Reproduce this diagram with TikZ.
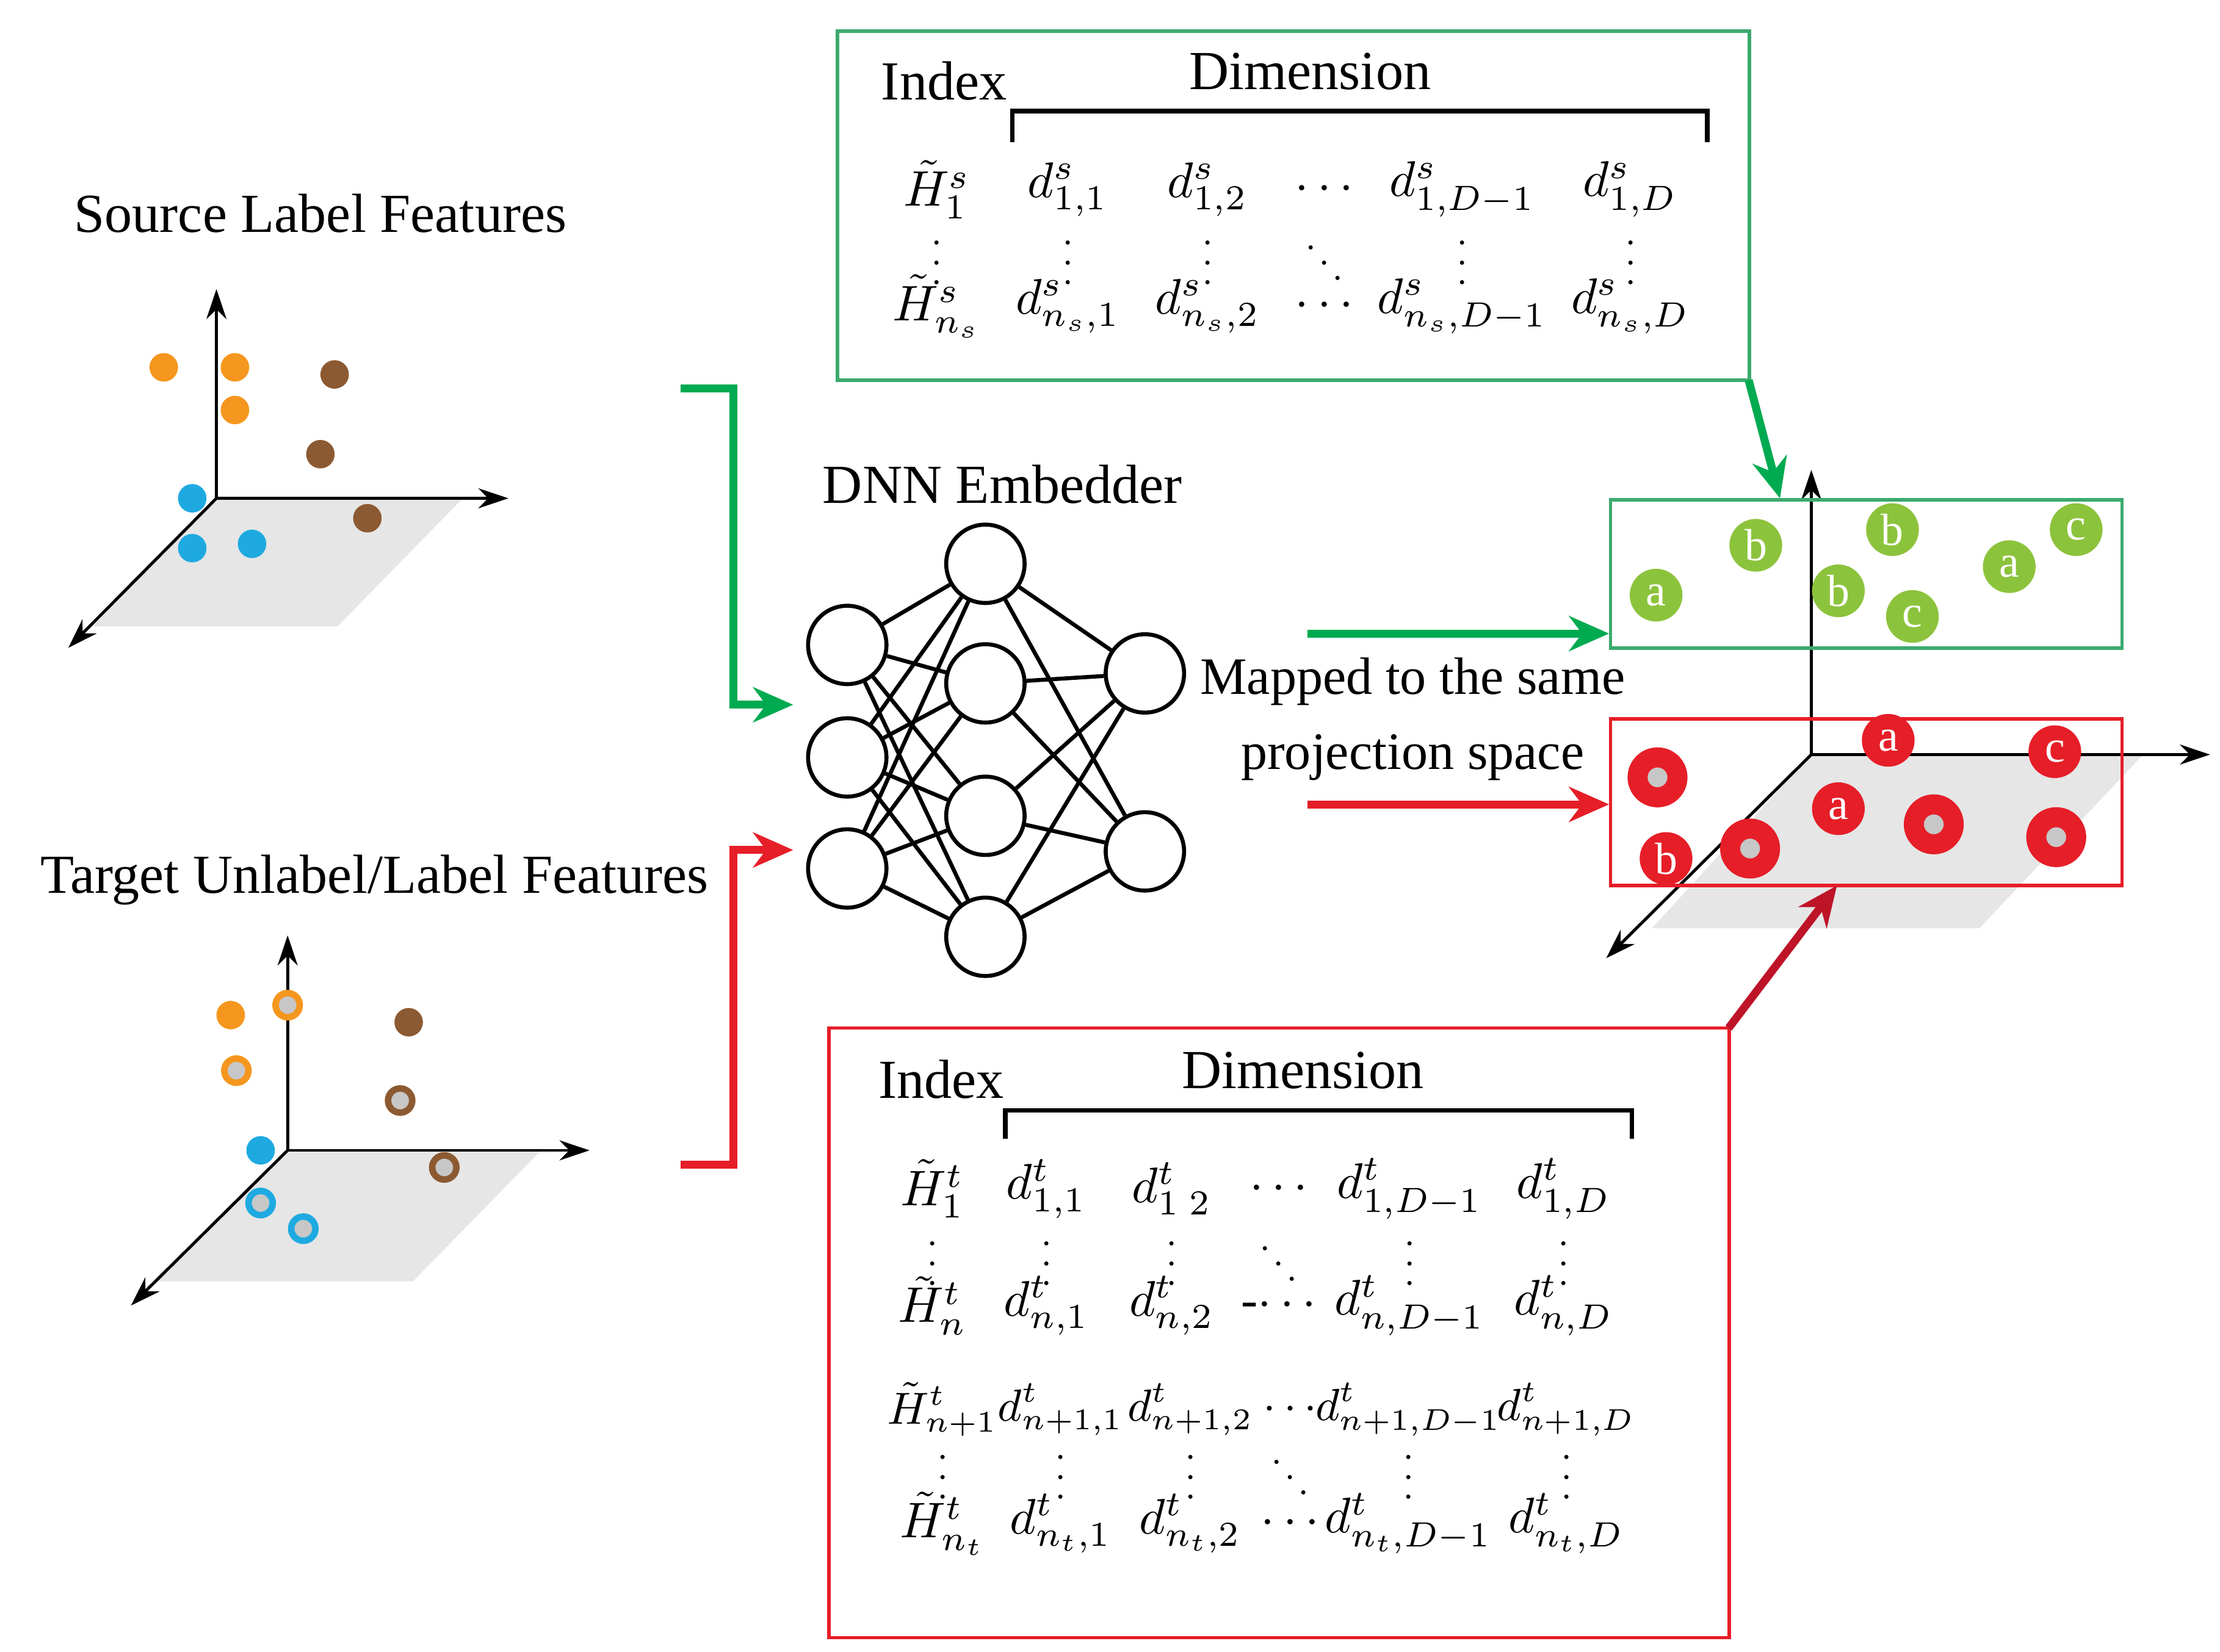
\documentclass[tikz,border=0pt]{standalone}
\usepackage{fontspec}
\setmainfont{Liberation Serif}
\usetikzlibrary{arrows.meta}
\definecolor{gline}{RGB}{0,170,80}
\definecolor{gbox}{RGB}{60,170,110}
\definecolor{gdot}{RGB}{140,195,60}
\definecolor{rr}{RGB}{230,30,40}
\definecolor{dr}{RGB}{190,20,40}
\definecolor{org}{RGB}{245,150,30}
\definecolor{brn}{RGB}{140,90,50}
\definecolor{blu}{RGB}{30,170,225}
\definecolor{pl}{RGB}{230,230,230}
\begin{document}
\begin{tikzpicture}[x=0.01cm,y=-0.01cm,
  txt/.style={font=\fontsize{11}{13}\selectfont,inner sep=0},
  mt/.style={font=\fontsize{10}{12}\selectfont,inner sep=0},
  mts/.style={font=\fontsize{8.6}{10}\selectfont,inner sep=0},
  vd/.style={font=\fontsize{7}{8}\selectfont,inner sep=0},
  box/.style={draw=#1,line width=0.7pt,inner sep=0,outer sep=0,anchor=north west},
  ax/.style={-{Stealth[length=6pt,width=4pt]},line width=0.6pt},
  dot/.style={circle,fill=#1,minimum size=0.2cm,inner sep=0},
  ring/.style={circle,draw=#1,line width=1.3pt,fill=pl!70!gray,minimum size=0.17cm,inner sep=0},
  gd/.style={circle,fill=gdot,minimum size=0.37cm,inner sep=0,text=white,font=\fontsize{9}{10}\selectfont},
  rd/.style={circle,fill=rr,minimum size=0.37cm,inner sep=0,text=white,font=\fontsize{9}{10}\selectfont},
  rring/.style={circle,draw=rr,line width=4pt,fill=pl!70!gray,minimum size=0.28cm,inner sep=0},
  neu/.style={circle,draw,line width=0.8pt,minimum size=0.55cm,inner sep=0},
  conn/.style={line width=1.6pt,-{Stealth[length=8pt,width=7pt]}}]
\useasboundingbox (0,0) rectangle (1559,1160);
% --- top-left axes
\fill[pl] (152,350)--(325,350)--(237,440)--(65,440)--cycle;
\coordinate (o1) at (152,350);\coordinate (u1) at (152,203);\coordinate (r1) at (357,350);\coordinate (l1) at (48,455);
\draw[ax] (o1)--(u1); \draw[ax] (o1)--(r1); \draw[ax] (o1)--(l1);
\node[txt] (t1) at (225,150) {Source Label Features};
\foreach \p in {(115,258),(165,258),(165,288)} \node[dot=org] at \p {};
\foreach \p in {(235,263),(225,319),(258,364)} \node[dot=brn] at \p {};
\foreach \p in {(135,350),(135,385),(177,382)} \node[dot=blu] at \p {};
% --- bottom-left axes
\fill[pl] (202,808)--(380,808)--(290,900)--(110,900)--cycle;
\coordinate (o2) at (202,808);\coordinate (u2) at (202,657);\coordinate (r2) at (414,808);\coordinate (l2) at (92,917);
\draw[ax] (o2)--(u2); \draw[ax] (o2)--(r2); \draw[ax] (o2)--(l2);
\node[txt] (t2) at (263,618) {Target Unlabel/Label Features};
\node[dot=org] at (162,713) {}; \node[ring=org] at (202,706) {}; \node[ring=org] at (166,752) {};
\node[dot=brn] at (287,718) {}; \node[ring=brn] at (281,773) {}; \node[ring=brn] at (312,820) {};
\node[dot=blu] at (183,808) {}; \node[ring=blu] at (183,845) {}; \node[ring=blu] at (213,863) {};
% --- NN
\node[txt] (dnn) at (704,340) {DNN Embedder};
\foreach \y [count=\i] in {453,532,610} \node[neu] (a\i) at (595,\y) {};
\foreach \y [count=\i] in {396,480,573,658} \node[neu] (h\i) at (692,\y) {};
\foreach \y [count=\i] in {473,598} \node[neu] (o\i) at (804,\y) {};
\foreach \i in {1,2,3} \foreach \j in {1,2,3,4} \draw[line width=0.8pt] (a\i)--(h\j);
\foreach \i in {1,2,3,4} \foreach \j in {1,2} \draw[line width=0.8pt] (h\i)--(o\j);
% connectors to NN
\coordinate (gs) at (478,273); \coordinate (gt) at (557,495);
\draw[conn,gline] (gs)-|(515,495)--(gt);
\coordinate (rs) at (478,818); \coordinate (rt) at (557,597);
\draw[conn,rr] (rs)-|(515,597)--(rt);
% --- top box
\node[box=gbox,minimum width=6.4cm,minimum height=2.45cm] (sb) at (588,22) {};
\node[txt] at (663,57) {Index};
\node[txt] at (920,50) {Dimension};
\draw[line width=0.9pt] (711,100)--(711,78)--(1199,78)--(1199,100);
\foreach \x/\a/\b in {658/{\tilde H^s_1}/{\tilde H^s_{n_s}},750/{d^s_{1,1}}/{d^s_{n_s,1}},848/{d^s_{1,2}}/{d^s_{n_s,2}},930/{\cdots}/{\cdots},1027/{d^s_{1,D-1}}/{d^s_{n_s,D-1}},1145/{d^s_{1,D}}/{d^s_{n_s,D}}}{
  \node[mt] at (\x,133) {$\a$}; \node[mt] at (\x,215) {$\b$};}
\foreach \x in {658,750,848,1027,1145} \node[vd] at (\x,174) {$\vdots$};
\node[vd] at (930,174) {$\ddots$};
% --- bottom box
\node[box=rr,minimum width=6.32cm,minimum height=4.28cm] (tb) at (582,722) {};
\node[txt] at (661,758) {Index};
\node[txt] at (915,752) {Dimension};
\draw[line width=0.9pt] (706,800)--(706,780)--(1146,780)--(1146,800);
\foreach \x/\a/\b in {655/{\tilde H^t_1}/{\tilde H^t_{n}},735/{d^t_{1,1}}/{d^t_{n,1}},823/{d^t_{1\;2}}/{d^t_{n,2}},898/{\cdots}/{\mbox{-}\!\cdots},990/{d^t_{1,D-1}}/{d^t_{n,D-1}},1098/{d^t_{1,D}}/{d^t_{n,D}}}{
  \node[mt] at (\x,835) {$\a$}; \node[mt] at (\x,917) {$\b$};}
\foreach \x in {655,735,823,990,1098} \node[vd] at (\x,877) {$\vdots$};
\node[vd] at (898,877) {$\ddots$};
\foreach \x/\a/\b in {662/{\tilde H^t_{n+1}}/{\tilde H^t_{n_t}},745/{d^t_{n+1,1}}/{d^t_{n_t,1}},836/{d^t_{n+1,2}}/{d^t_{n_t,2}},906/{\cdots}/{\cdots},989/{d^t_{n+1,D-1}}/{d^t_{n_t,D-1}},1100/{d^t_{n+1,D}}/{d^t_{n_t,D}}}{
  \node[mts] at (\x,990) {$\a$}; \node[mt] at (\x,1070) {$\b$};}
\foreach \x in {662,745,836,989,1100} \node[vd] at (\x,1027) {$\vdots$};
\node[vd] at (906,1027) {$\ddots$};
% --- right axes
\fill[pl] (1272,530)--(1505,530)--(1390,652)--(1160,652)--cycle;
\coordinate (o3) at (1272,530);\coordinate (u3) at (1272,330);\coordinate (r3) at (1552,530);\coordinate (l3) at (1128,673);
\draw[ax] (o3)--(u3); \draw[ax] (o3)--(r3); \draw[ax] (o3)--(l3);
\node[box=gbox,minimum width=3.59cm,minimum height=1.04cm] (gbx) at (1131,351) {};
\node[box=rr,minimum width=3.59cm,minimum height=1.17cm] (rbx) at (1131,505) {};
\node[gd] at (1163,418) {a}; \node[gd] at (1233,383) {b}; \node[gd] at (1329,372) {b};
\node[gd] at (1291,415) {b}; \node[gd] at (1343,433) {c}; \node[gd] at (1411,398) {a}; \node[gd] at (1458,372) {c};
\foreach \p in {(1164,546),(1229,596),(1358,579),(1444,588)} \node[rring] at \p {};
\node[rd] at (1326,520) {a}; \node[rd] at (1443,528) {c}; \node[rd] at (1291,568) {a}; \node[rd] at (1170,603) {b};
% arrows to right
\coordinate (s1) at (1228,267); \coordinate (e1) at (1250,350);
\draw[conn,gline] (s1)--(e1);
\coordinate (s2) at (918,445); \coordinate (e2) at (1130,445);
\draw[conn,gline] (s2)--(e2);
\coordinate (s3) at (918,565); \coordinate (e3) at (1130,565);
\draw[conn,rr] (s3)--(e3);
\coordinate (s4) at (1214,722); \coordinate (e4) at (1290,622);
\draw[conn,dr] (s4)--(e4);
\node[txt,align=center,font=\fontsize{10.5}{13}\selectfont] (map) at (992,505) {Mapped to the same\\[2pt]projection space};
\end{tikzpicture}
\end{document}
